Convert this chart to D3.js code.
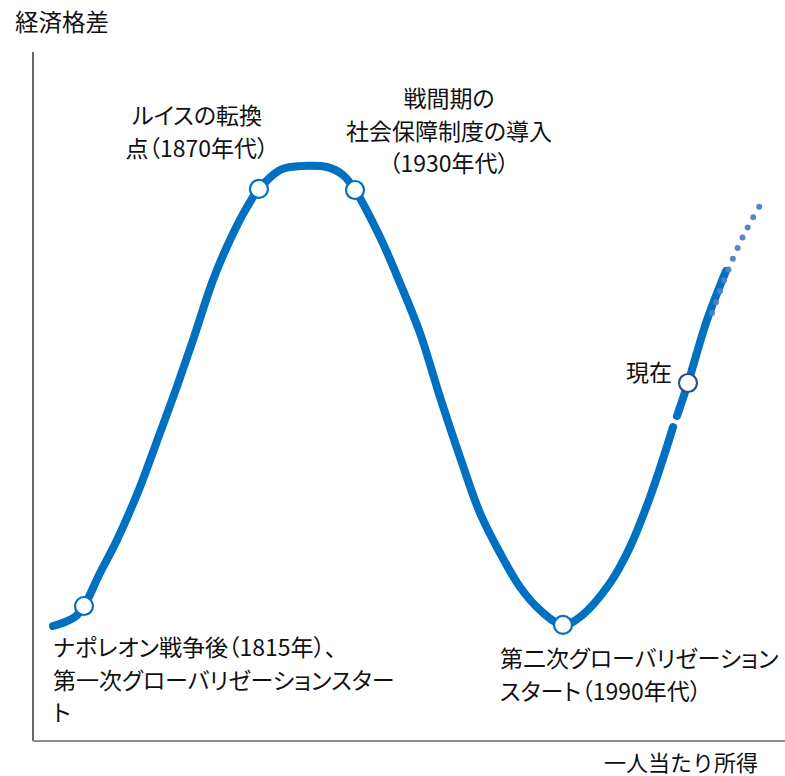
<!DOCTYPE html>
<html lang="ja">
<head>
<meta charset="utf-8">
<script src="https://cdn.jsdelivr.net/npm/d3@7"></script>
<style>
  html, body { margin: 0; padding: 0; background: #fff; }
  svg text { font-family: "Noto Sans CJK JP", "Noto Sans", sans-serif; fill: #111; }
  svg text.lbl { font-feature-settings: "palt"; }
</style>
</head>
<body>
<svg id="chart" width="785" height="776"></svg>
<script>
// Per-capita income (x) vs. economic inequality (y), schematic units 0–100
const curveIncome = [2.66, 4.26, 5.59, 6.78, 8.91, 11.17, 14.23, 16.49, 18.88, 21.28, 23.94, 26.20, 28.46, 30.05, 32.85, 34.18, 39.10, 41.22, 42.82, 46.14, 48.80, 51.46, 54.12, 56.78, 59.44, 62.10, 64.76, 67.42, 70.48, 72.74, 76.73, 79.39, 82.05, 85.11];
const curveInequality = [16.69, 17.27, 18.00, 19.59, 24.38, 29.17, 36.87, 43.54, 50.65, 58.20, 66.91, 72.72, 77.50, 80.12, 82.87, 83.31, 83.31, 82.15, 79.97, 73.15, 66.47, 59.22, 49.93, 41.22, 33.09, 27.29, 22.35, 19.01, 16.84, 18.00, 22.93, 28.16, 35.41, 45.57];

// Recent stretch after the short break, up to today and a little beyond
const recentIncome     = [85.64, 87.10, 89.63, 92.15];
const recentInequality = [47.17, 51.96, 61.10, 68.22];

// Projected continuation (dotted)
const projIncome     = [90.30, 92.02, 93.88, 95.35, 96.94];
const projInequality = [62.12, 67.20, 71.99, 75.18, 78.23];

// Milestones marked with open circles
const milestoneIncome     = [6.78, 30.05, 42.82, 70.48, 87.10];
const milestoneInequality = [19.59, 80.12, 79.97, 16.84, 51.96];
const milestoneLabels = [
  ["ナポレオン戦争後（1815年）、", "第一次グローバリゼーションスター", "ト"],
  ["ルイスの転換", "点（1870年代）"],
  ["戦間期の", "社会保障制度の導入", "（1930年代）"],
  ["第二次グローバリゼーション", "スタート（1990年代）"],
  ["現在"]
];

const yAxisTitle = "経済格差";
const xAxisTitle = "一人当たり所得";

// ---- layout ----
const svg = d3.select("#chart");
const plot = { left: 33, right: 785, top: 52, bottom: 741 };

const x = d3.scaleLinear().domain([0, 100]).range([plot.left, plot.right]);
const y = d3.scaleLinear().domain([0, 100]).range([plot.bottom, plot.top]);

// label placement: [x, firstBaseline, anchor]
const labelLayout = [
  [53, 656, "start"],
  [197, 124, "middle"],
  [449, 107, "middle"],
  [500, 667, "start"],
  [672, 381, "end"]
];
const lineStep = 32.5;

// axes (plain lines, no ticks)
svg.append("line")
  .attr("x1", x(0)).attr("x2", x(0))
  .attr("y1", y(100)).attr("y2", y(0))
  .attr("stroke", "#000").attr("stroke-width", 1.2);
svg.append("line")
  .attr("x1", x(0)).attr("x2", x(100))
  .attr("y1", y(0)).attr("y2", y(0))
  .attr("stroke", "#8c8c8c").attr("stroke-width", 2);

const line = d3.line()
  .x(d => x(d[0]))
  .y(d => y(d[1]))
  .curve(d3.curveCatmullRom.alpha(0.5));

const mainPts = curveIncome.map((v, i) => [v, curveInequality[i]]);
const recentPts = recentIncome.map((v, i) => [v, recentInequality[i]]);
const projPts = projIncome.map((v, i) => [v, projInequality[i]]);

[mainPts, recentPts].forEach(pts => {
  svg.append("path")
    .attr("d", line(pts))
    .attr("fill", "none")
    .attr("stroke", "#0070c0")
    .attr("stroke-width", 8)
    .attr("stroke-linecap", "round")
    .attr("stroke-linejoin", "round");
});

svg.append("path")
  .attr("d", line(projPts))
  .attr("fill", "none")
  .attr("stroke", "#4f81c4")
  .attr("stroke-opacity", 0.95)
  .attr("stroke-width", 6)
  .attr("stroke-linecap", "round")
  .attr("stroke-dasharray", "0 11.6");

// milestone markers
const ms = milestoneIncome.map((v, i) => ({ x: v, y: milestoneInequality[i], i }));
svg.selectAll("circle.ms")
  .data(ms)
  .join("circle")
  .attr("class", "ms")
  .attr("cx", d => x(d.x))
  .attr("cy", d => y(d.y))
  .attr("r", 9)
  .attr("fill", "#fff")
  .attr("stroke", d => d.i === 4 ? "#2f5184" : "#0070c0")
  .attr("stroke-width", 2.2);

// milestone labels
milestoneLabels.forEach((lines, i) => {
  const [lx, ly, anchor] = labelLayout[i];
  const t = svg.append("text")
    .attr("class", "lbl")
    .attr("text-anchor", anchor)
    .attr("font-size", 23);
  lines.forEach((s, k) => {
    t.append("tspan").attr("x", lx).attr("y", ly + k * lineStep).text(s);
  });
});

// axis titles
svg.append("text").attr("x", 15).attr("y", 31).attr("font-size", 23.5).text(yAxisTitle);
svg.append("text").attr("x", 758).attr("y", 771).attr("text-anchor", "end").attr("font-size", 22).text(xAxisTitle);
</script>
</body>
</html>
